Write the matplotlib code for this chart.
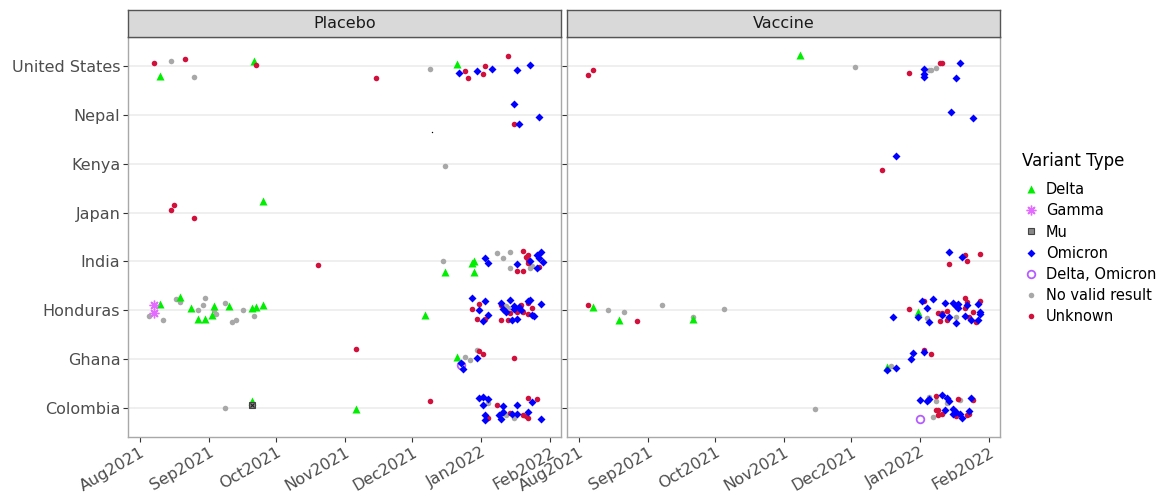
import matplotlib
matplotlib.use("Agg")
import matplotlib.pyplot as plt
import pandas as pd
from matplotlib.lines import Line2D

countries = ["Colombia", "Ghana", "Honduras", "India", "Japan", "Kenya", "Nepal", "United States"]
arms = ["Placebo", "Vaccine"]
variant_names = {"D": "Delta", "G": "Gamma", "M": "Mu", "O": "Omicron",
                 "X": "Delta, Omicron", "N": "No valid result", "U": "Unknown"}
month_ticks = ["2021-08-01", "2021-09-01", "2021-10-01", "2021-11-01",
               "2021-12-01", "2022-01-01", "2022-02-01"]

# (variant code, sample date, vertical jitter)
placebo_us = [("U","2021-08-07",.07),("N","2021-08-15",.10),("U","2021-08-21",.14),("D","2021-08-10",-.20),
              ("N","2021-08-25",-.21),("D","2021-09-21",.11),("U","2021-09-22",.02),("U","2021-11-15",-.24),
              ("N","2021-12-09",-.05),("D","2021-12-21",.05),("O","2021-12-22",-.13),("U","2021-12-25",-.09),
              ("U","2021-12-26",-.24),("O","2021-12-30",-.09),("U","2022-01-02",-.15),("U","2022-01-03",.01),
              ("O","2022-01-06",-.05),("U","2022-01-13",.22),("O","2022-01-17",-.07),("O","2022-01-23",.03)]
placebo_nepal = [("O","2022-01-16",.22),("U","2022-01-16",-.18),("O","2022-01-18",-.18),("O","2022-01-27",-.03),
                 (".","2021-12-10",-.35)]
placebo_kenya = [("N","2021-12-16",-.05)]
placebo_japan = [("U","2021-08-16",.16),("U","2021-08-15",.06),("U","2021-08-25",-.11),("D","2021-09-25",.24)]
placebo_india = [("U","2021-10-20",-.08),("N","2021-12-15",0),("D","2021-12-16",-.21),("D","2021-12-29",.01),
                 ("D","2021-12-28",-.03),("D","2021-12-29",-.22),("O","2022-01-03",.06),("O","2022-01-04",-.04),
                 ("N","2022-01-08",.18),("N","2022-01-11",.07),("N","2022-01-14",.20),("O","2022-01-17",-.05),
                 ("N","2022-01-14",-.14),("U","2022-01-20",.22),("U","2022-01-21",.10),("U","2022-01-22",.03),
                 ("U","2022-01-22",.13),("U","2022-01-22",-.03),("U","2022-01-17",-.20),("U","2022-01-20",-.20),
                 ("N","2022-01-23",-.14),("N","2022-01-24",-.09),("U","2022-01-27",-.12),("O","2022-01-26",.14),
                 ("O","2022-01-28",.20),("O","2022-01-27",.06),("O","2022-01-29",-.02),("O","2022-01-26",-.13),
                 ("O","2022-01-23",.01)]
placebo_honduras = [("N","2021-08-05",-.12),("D","2021-08-10",.12),("N","2021-08-11",-.21),
                    ("N","2021-08-17",.23),("D","2021-08-19",.27),("N","2021-08-19",.16),("D","2021-08-24",.05),
                    ("N","2021-08-27",0),("N","2021-08-29",.10),("N","2021-08-30",.24),("D","2021-08-27",-.18),
                    ("D","2021-08-30",-.19),("D","2021-09-02",-.09),("D","2021-09-03",.08),("N","2021-09-03",.01),
                    ("N","2021-09-04",-.07),("N","2021-09-08",.15),("D","2021-09-10",.09),("N","2021-09-11",-.24),
                    ("N","2021-09-13",-.21),("N","2021-09-16",.01),("D","2021-09-20",.04),("N","2021-09-21",-.12),
                    ("D","2021-09-22",.07),("D","2021-09-25",.10),("D","2021-12-07",-.10),
                    ("G","2021-08-07",.11),("G","2021-08-07",-.06),
                    ("O","2021-12-28",.24),("U","2021-12-31",.13),("U","2021-12-28",.03),("O","2021-12-31",.01),
                    ("O","2022-01-03",.19),("O","2022-01-04",-.09),("U","2021-12-30",-.19),("O","2022-01-02",-.22),
                    ("U","2022-01-03",-.18),("O","2022-01-10",.15),("U","2022-01-10",.11),("O","2022-01-11",.02),
                    ("N","2022-01-12",.09),("N","2022-01-13",.04),("O","2022-01-14",.20),("O","2022-01-12",-.03),
                    ("U","2022-01-14",-.05),("O","2022-01-16",.08),("O","2022-01-16",.02),("U","2022-01-17",-.04),
                    ("U","2022-01-19",.10),("O","2022-01-19",0),("O","2022-01-22",.19),("U","2022-01-22",.14),
                    ("O","2022-01-23",.20),("U","2022-01-20",-.04),("U","2022-01-22",-.07),("U","2022-01-24",.04),
                    ("O","2022-01-24",-.10),("O","2022-01-25",-.12),("O","2022-01-28",.12),("U","2022-01-10",-.21),
                    ("U","2022-01-13",-.21),("O","2022-01-15",-.20),("O","2022-01-17",-.19),("O","2022-01-18",.06)]
placebo_ghana = [("U","2021-11-06",.20),("D","2021-12-21",.05),("X","2021-12-23",-.12),("O","2021-12-23",-.08),
                 ("O","2021-12-24",-.20),("N","2021-12-25",.03),("N","2021-12-27",-.03),("O","2021-12-30",.02),
                 ("N","2021-12-30",.18),("U","2021-12-31",.16),("U","2022-01-02",.11),("U","2022-01-16",.01)]
placebo_colombia = [("N","2021-09-08",0),("M","2021-09-20",.05),("D","2021-09-20",.14),("D","2021-11-06",-.02),
                    ("U","2021-12-09",.14),("O","2021-12-31",.20),("O","2022-01-02",.22),("O","2022-01-04",.18),
                    ("N","2022-01-04",.10),("O","2022-01-02",.06),("U","2022-01-08",.05),("O","2022-01-11",.03),
                    ("O","2022-01-17",.06),("U","2022-01-22",.20),("O","2022-01-24",.11),("U","2022-01-26",.18),
                    ("O","2022-01-03",-.14),("U","2022-01-04",-.22),("O","2022-01-03",-.26),("O","2022-01-09",-.14),
                    ("O","2022-01-10",-.24),("O","2022-01-11",-.09),("N","2022-01-12",-.14),("U","2022-01-14",-.10),
                    ("O","2022-01-15",-.13),("N","2022-01-16",-.22),("O","2022-01-17",-.12),("U","2022-01-20",-.15),
                    ("U","2022-01-21",-.16),("U","2022-01-22",-.22),("O","2022-01-22",-.08),("O","2022-01-28",-.24)]

vaccine_us = [("U","2021-08-05",-.18),("U","2021-08-07",-.07),("D","2021-11-08",.24),("N","2021-12-03",-.02),
              ("U","2021-12-27",-.13),("O","2022-01-03",-.06),("O","2022-01-03",-.16),("O","2022-01-03",-.21),
              ("N","2022-01-05",-.08),("N","2022-01-06",-.08),("N","2022-01-08",-.03),("U","2022-01-10",.07),
              ("U","2022-01-11",.06),("O","2022-01-17",-.24),("O","2022-01-19",.07)]
vaccine_nepal = [("O","2022-01-15",.06),("O","2022-01-25",-.06)]
vaccine_kenya = [("O","2021-12-21",.16),("U","2021-12-15",-.13)]
vaccine_japan = []
vaccine_india = [("O","2022-01-14",.20),("U","2022-01-14",-.06),("O","2022-01-20",.09),("U","2022-01-21",.14),
                 ("U","2022-01-22",0),("U","2022-01-28",.16)]
vaccine_honduras = [("U","2021-08-05",.10),("D","2021-08-07",.07),("N","2021-08-14",0),("N","2021-08-21",-.04),
                    ("D","2021-08-19",-.20),("U","2021-08-27",-.22),("N","2021-09-07",.10),("N","2021-09-21",-.14),
                    ("D","2021-09-21",-.19),("N","2021-10-05",.03),("O","2021-12-20",-.15),("U","2021-12-27",.03),
                    ("D","2021-12-31",-.03),("O","2021-12-31",-.13),("N","2022-01-04",-.16),("O","2022-01-05",-.24),
                    ("O","2022-01-02",.18),("U","2022-01-03",.18),("O","2022-01-04",.04),("O","2022-01-07",.22),
                    ("U","2022-01-09",-.05),("U","2022-01-11",-.05),("U","2022-01-13",-.01),("O","2022-01-11",-.10),
                    ("U","2022-01-10",-.22),("U","2022-01-13",-.20),("O","2022-01-14",-.13),("O","2022-01-12",.15),
                    ("O","2022-01-16",.15),("O","2022-01-17",.09),("O","2022-01-18",.05),("O","2022-01-18",.13),
                    ("N","2022-01-17",-.15),("O","2022-01-17",-.26),("U","2022-01-21",.25),("U","2022-01-21",.04),
                    ("U","2022-01-22",.16),("O","2022-01-21",-.12),("U","2022-01-23",-.15),("O","2022-01-24",-.20),
                    ("U","2022-01-25",-.04),("U","2022-01-26",-.24),("O","2022-01-27",.12),("U","2022-01-28",.19),
                    ("O","2022-01-28",-.03),("O","2022-01-28",-.07),("O","2022-01-27",-.21),("O","2022-01-22",.11)]
vaccine_ghana = [("D","2021-12-17",-.16),("O","2021-12-17",-.23),("N","2021-12-19",-.15),("O","2021-12-21",-.18),
                 ("O","2021-12-28",-.01),("O","2021-12-29",.12),("O","2022-01-03",.14),("U","2022-01-03",.19),
                 ("U","2022-01-06",.10)]
vaccine_colombia = [("N","2021-11-15",-.03),("X","2022-01-01",-.24),("N","2022-01-07",-.18),("O","2022-01-01",.16),
                    ("O","2022-01-04",.14),("N","2022-01-05",.22),("O","2022-01-05",.18),("U","2022-01-08",.24),
                    ("N","2022-01-08",.14),("O","2022-01-11",.26),("O","2022-01-13",.20),("O","2022-01-14",.14),
                    ("N","2022-01-13",.10),("U","2022-01-18",.18),("N","2022-01-19",.16),("O","2022-01-24",.20),
                    ("U","2022-01-25",.15),("U","2022-01-08",-.05),("U","2022-01-09",-.05),("O","2022-01-12",-.05),
                    ("U","2022-01-11",-.13),("O","2022-01-16",-.02),("O","2022-01-17",-.08),("O","2022-01-16",-.13),
                    ("U","2022-01-17",-.17),("O","2022-01-19",-.13),("O","2022-01-20",-.22),("U","2022-01-22",-.14),
                    ("U","2022-01-23",-.13),("O","2022-01-23",-.06),("U","2022-01-09",-.14)]

data = {
    "Placebo": {"Colombia": placebo_colombia, "Ghana": placebo_ghana, "Honduras": placebo_honduras,
                "India": placebo_india, "Japan": placebo_japan, "Kenya": placebo_kenya,
                "Nepal": placebo_nepal, "United States": placebo_us},
    "Vaccine": {"Colombia": vaccine_colombia, "Ghana": vaccine_ghana, "Honduras": vaccine_honduras,
                "India": vaccine_india, "Japan": vaccine_japan, "Kenya": vaccine_kenya,
                "Nepal": vaccine_nepal, "United States": vaccine_us},
}

styles = {
    "D": dict(marker="^", color="#00EE00", ms=6.0, mec="none"),
    "G": dict(marker=(8, 2, 0), color="#E36BFF", ms=7, mew=1.0),
    "M": dict(marker="s", color="#444444", ms=4.5, mfc="#888888", mew=0.8),
    "O": dict(marker="D", color="#0000FF", ms=3.6, mec="none"),
    "X": dict(marker="o", color="#B45CFF", ms=5.5, mfc="none", mew=1.3),
    "N": dict(marker="o", color="#A8A8A8", ms=4.0, mec="none"),
    "U": dict(marker="o", color="#D2103C", ms=4.0, mec="none"),
    ".": dict(marker="o", color="black", ms=1.0, mec="none"),
}
draw_order = ["N", "D", "G", "M", "X", "U", "O", "."]

W, H = 1171, 501
fig = plt.figure(figsize=(W / 100, H / 100), dpi=100)
panel_x = [128, 567]
panel_w = 433
top, bottom = 37, 437
strip_top = 10

xmin = pd.Timestamp("2021-07-26 12:00")
xmax = pd.Timestamp("2022-02-05 22:00")

for i, arm in enumerate(arms):
    ax = fig.add_axes([panel_x[i] / W, (H - bottom) / H, panel_w / W, (bottom - top) / H])
    for code in draw_order:
        xs, ys = [], []
        for ci, c in enumerate(countries):
            for v, d, j in data[arm][c]:
                if v == code:
                    xs.append(pd.Timestamp(d))
                    ys.append(ci + 1 + j)
        if not xs:
            continue
        st = dict(styles[code])
        ax.plot(xs, ys, linestyle="none", zorder=3, **st)
        if code == "M":
            ax.plot(xs, ys, linestyle="none", marker="x", color="#222222", ms=3.5, mew=0.8, zorder=4)
    ax.set_xlim(xmin, xmax)
    ax.set_ylim(0.4, 8.6)
    ax.set_yticks(range(1, len(countries) + 1))
    ax.grid(axis="y", color="#EBEBEB", linewidth=1.1, zorder=0)
    ax.set_axisbelow(True)
    ticks = [pd.Timestamp(t) for t in month_ticks]
    ax.set_xticks(ticks)
    ax.set_xticklabels([t.strftime("%b%Y") for t in ticks], rotation=30, ha="right",
                       rotation_mode="anchor", fontsize=11.5, color="#4D4D4D")
    if i == 0:
        ax.set_yticklabels(countries, fontsize=11.5, color="#4D4D4D")
    else:
        ax.set_yticklabels([])
        ax.tick_params(axis="y", length=0)
    ax.tick_params(axis="both", color="#333333", length=3.5, width=0.8, pad=2)
    for s in ax.spines.values():
        s.set_color("#A8A8A8")
        s.set_linewidth(1.0)
    # strip
    sax = fig.add_axes([panel_x[i] / W, (H - top) / H, panel_w / W, (top - strip_top) / H])
    sax.set_facecolor("#D9D9D9")
    sax.set_xticks([])
    sax.set_yticks([])
    for s in sax.spines.values():
        s.set_color("#555555")
        s.set_linewidth(1.0)
    sax.text(0.5, 0.5, arm, ha="center", va="center", fontsize=11.5, color="#1A1A1A",
             transform=sax.transAxes)

handles = []
for code in ["D", "G", "M", "O", "X", "N", "U"]:
    st = dict(styles[code])
    handles.append(Line2D([], [], linestyle="none", **st))
leg = fig.legend(handles, [variant_names[c] for c in ["D", "G", "M", "O", "X", "N", "U"]],
                 title="Variant Type", loc="upper left", bbox_to_anchor=(1016 / W, (H - 146) / H),
                 frameon=False, fontsize=10.5, title_fontsize=12, handletextpad=0.45,
                 labelspacing=0.42, handlelength=1.2, borderaxespad=0)
leg._legend_box.align = "left"
leg._legend_box.sep = 9
fig.savefig("out.png", dpi=100)
